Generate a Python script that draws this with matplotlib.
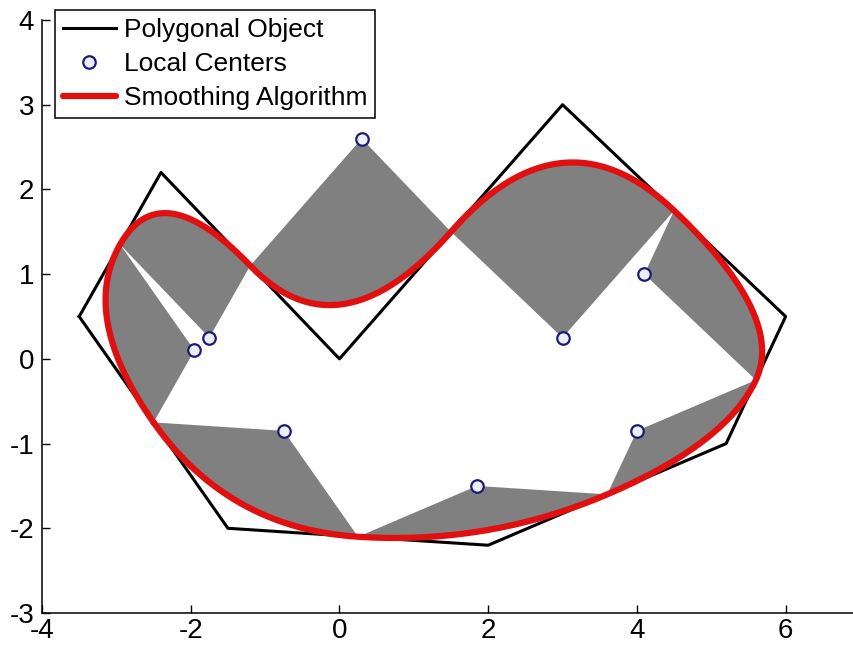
import numpy as np
import matplotlib
matplotlib.use("Agg")
import matplotlib.pyplot as plt

plt.rcParams['font.family'] = ['Liberation Sans', 'DejaVu Sans']
plt.rcParams['axes.unicode_minus'] = False

# polygon corners, clockwise from the far left
poly_x = [-3.5, -2.4, 0.0, 3.0, 6.0, 5.2, 2.0, -1.5]
poly_y = [0.5, 2.2, 0.0, 3.0, 0.5, -1.0, -2.2, -2.0]

# local center of each corner (same order as the corners)
center_x = [-1.95, -1.75, 0.3, 3.0, 4.1, 4.0, 1.85, -0.75]
center_y = [0.1, 0.25, 2.6, 0.25, 1.0, -0.85, -1.5, -0.85]

x_ticks = [-4, -2, 0, 2, 4, 6]
y_ticks = [-3, -2, -1, 0, 1, 2, 3, 4]


def corner_arc(i, n=60):
    # quadratic piece between the two edge midpoints, corner as control point
    k = len(poly_x)
    p = np.array([poly_x[i], poly_y[i]])
    a = (p + np.array([poly_x[i - 1], poly_y[i - 1]])) / 2
    b = (p + np.array([poly_x[(i + 1) % k], poly_y[(i + 1) % k]])) / 2
    t = np.linspace(0, 1, n)[:, None]
    return (1 - t) ** 2 * a + 2 * t * (1 - t) * p + t ** 2 * b


fig = plt.figure(figsize=(8.54, 6.46), dpi=100)
ax = fig.add_axes([42 / 854, 33 / 646, 818 / 854, 593 / 646])

arcs = [corner_arc(i) for i in range(len(poly_x))]

# gray regions between each local center and its arc
for i, arc in enumerate(arcs):
    reg = np.vstack([[center_x[i], center_y[i]], arc])
    ax.fill(reg[:, 0], reg[:, 1], color='#808080', lw=0, zorder=1)

px = poly_x + [poly_x[0]]
py = poly_y + [poly_y[0]]
ax.plot(px, py, color='black', lw=2.2, zorder=2, label='Polygonal Object')

ax.plot(center_x, center_y, 'o', ls='none', ms=9, mfc='#eeeef8', mec='#1c1c78',
        mew=1.6, zorder=4, label='Local Centers')

curve = np.vstack(arcs + [arcs[0][:1]])
ax.plot(curve[:, 0], curve[:, 1], color='#e01010', lw=4.5, zorder=3,
        solid_capstyle='round', label='Smoothing Algorithm')

ax.set_xlim(-4, 7)
ax.set_ylim(-3, 4)
ax.set_xticks(x_ticks)
ax.set_yticks(y_ticks)
ax.tick_params(direction='in', length=6, width=1, labelsize=20)
ax.tick_params(axis='x', pad=3.5)
ax.tick_params(axis='y', pad=5.5)
ax.spines['top'].set_visible(False)
ax.spines['right'].set_visible(False)
for s in ['left', 'bottom']:
    ax.spines[s].set_linewidth(1.1)

h, l = ax.get_legend_handles_labels()
leg = ax.legend(h, l, loc='upper left',
                bbox_to_anchor=(55 / 854, 1 - 10 / 646), bbox_transform=fig.transFigure,
                borderaxespad=0, fontsize=19, fancybox=False, framealpha=1,
                edgecolor='black', handlelength=2.0, handletextpad=0.3,
                borderpad=0.3, labelspacing=0.38)
leg.get_frame().set_linewidth(1.1)

fig.savefig('out.png', dpi=100)
